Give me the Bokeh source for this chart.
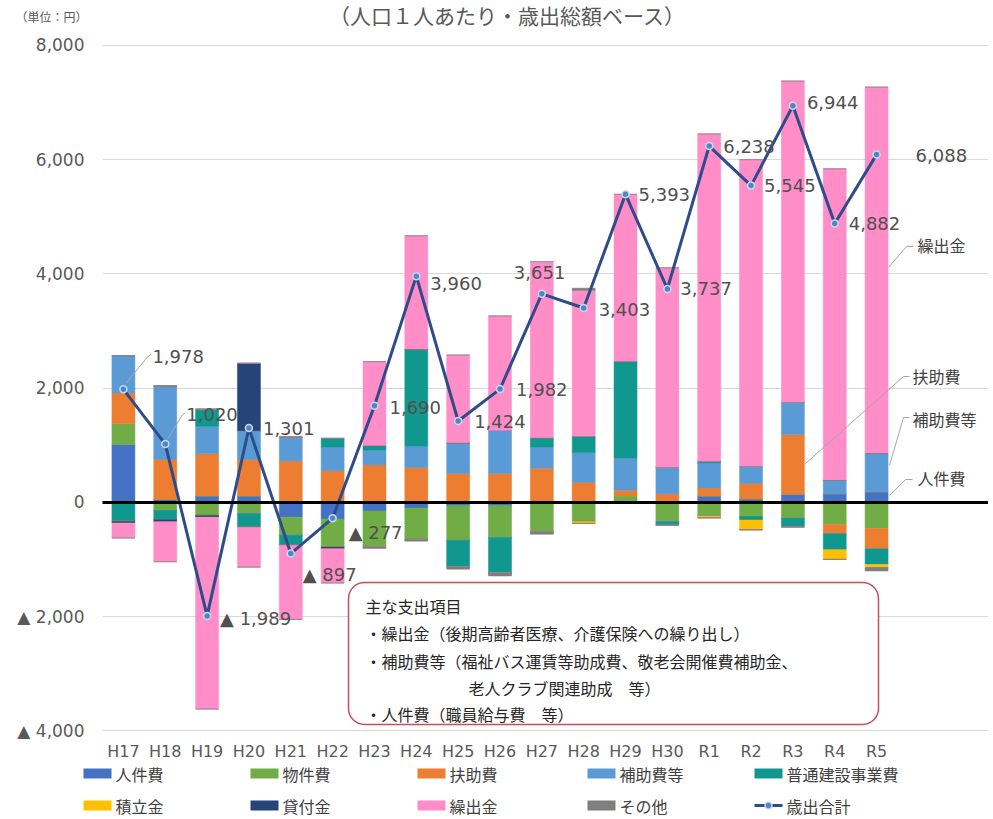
from bokeh.plotting import figure
from bokeh.layouts import column
from bokeh.models import (ColumnDataSource, Range1d, FixedTicker, Label, Grid,
                          LabelSet, BoxAnnotation, Arrow)
from bokeh.core.properties import value
from bokeh.embed import file_html
from bokeh.resources import INLINE

# ---------------- data ----------------
categories = ["H17", "H18", "H19", "H20", "H21", "H22", "H23", "H24", "H25", "H26",
              "H27", "H28", "H29", "H30", "R1", "R2", "R3", "R4", "R5"]

jinkenhi = [1014, 50, 110, 110, -260, -290, -150, -100, -60, -60, 20, 0, 0, 0, 110, 60, 140, 150, 185]
bukkenhi = [360, -145, -230, -200, -315, -493, -630, -550, -607, -560, -520, -335, 110, -340, -240, -250, -280, -390, -460]
fujohi = [540, 700, 740, 640, 725, 551, 655, 609, 504, 504, 577, 348, 100, 149, 140, 270, 1045, -160, -358]
hojohi = [656, 1290, 480, 505, 417, 417, 261, 377, 539, 754, 371, 522, 560, 466, 440, 300, 567, 240, 680]
kensetsu = [-330, -155, 300, -235, -175, 151, 81, 1698, -463, -615, 162, 289, 1700, -60, 30, -60, -150, -280, -270]
tsumitate = [0, 0, 0, 0, 0, 0, 0, 0, 0, 0, 0, -35, 0, 0, -30, -170, 0, -170, -55]
kashitsuke = [-30, -40, -30, 1180, 0, -30, 0, 0, 0, 0, 0, 0, 0, 0, 0, 0, 0, 0, 0]
kuridashi = [-265, -700, -3360, -700, -1300, -600, 1467, 1983, 1537, 2006, 3084, 2551, 2923, 3492, 5730, 5370, 5624, 5450, 6405]
sonota = [0, 0, 0, 0, 0, 0, -30, -30, -40, -55, -40, 40, 0, 0, 0, 0, 0, 0, -60]

totals = [1978, 1020, -1989, 1301, -897, -277, 1690, 3960, 1424, 1982,
          3651, 3403, 5393, 3737, 6238, 5545, 6944, 4882, 6088]

series_names = ["人件費", "物件費", "扶助費", "補助費等", "普通建設事業費",
                "積立金", "貸付金", "繰出金", "その他"]
series_values = [jinkenhi, bukkenhi, fujohi, hojohi, kensetsu,
                 tsumitate, kashitsuke, kuridashi, sonota]
series_colors = ["#4472C4", "#70AD47", "#ED7D31", "#5B9BD5", "#10988F",
                 "#FFC000", "#264478", "#FF8DC8", "#7F7F7F"]
total_name = "歳出合計"
title_text = "（人口１人あたり・歳出総額ベース）"
unit_text = "（単位：円）"

y_ticks = [-4000, -2000, 0, 2000, 4000, 6000, 8000]

# ---------------- layout constants ----------------
WIDTH = 988
TOP_H = 28                      # title strip
MAIN_FRAME_H = 709
MAIN_BOTTOM = 26                # x-axis panel
LEGEND_H = 54
BORDER_L = 102
BAR_AREA_W = 795                # width holding the 19 categories
pitch = BAR_AREA_W / len(categories)
frame_w = WIDTH - BORDER_L
X_START = 0.5
X_END = X_START + frame_w / pitch
Y_START, Y_END = -4030, 8296
frame_left_px = BORDER_L
frame_top_px = TOP_H
frame_bottom_px = TOP_H + MAIN_FRAME_H
ppu = MAIN_FRAME_H / (Y_END - Y_START)

JP = "Noto Sans CJK JP"
NUM = "DejaVu Sans"
GRAY = "#595959"


def sx(px):
    return px - frame_left_px


def sy(py):
    return frame_bottom_px - py


# ---------------- title strip ----------------
top = figure(width=WIDTH, height=TOP_H, x_range=Range1d(0, WIDTH), y_range=Range1d(0, TOP_H),
             min_border=0, x_axis_location=None, y_axis_location=None, frame_align=False,
             output_backend="svg", toolbar_location=None)
top.outline_line_color = None
top.grid.visible = False
top.add_layout(Label(x=507, y=TOP_H - 14, x_units="screen", y_units="screen",
                     text=title_text, text_font=JP, text_font_size="21px",
                     text_color=GRAY, text_align="center", text_baseline="middle"))
top.add_layout(Label(x=15, y=TOP_H - 16, x_units="screen", y_units="screen",
                     text=unit_text, text_font=JP, text_font_size="12px",
                     text_color=GRAY, text_align="left", text_baseline="middle"))

# ---------------- main chart ----------------
p = figure(width=WIDTH, height=MAIN_FRAME_H + MAIN_BOTTOM,
           x_range=Range1d(X_START, X_END), y_range=Range1d(Y_START, Y_END),
           min_border_left=BORDER_L, min_border_top=0, min_border_right=0,
           min_border_bottom=MAIN_BOTTOM, frame_align=False,
           output_backend="svg", toolbar_location=None)
p.outline_line_color = None
p.background_fill_color = "white"
p.border_fill_color = "white"

xs = list(range(1, len(categories) + 1))
grid_bounds = (X_START, X_START + len(categories) + 0.19)

p.xgrid.grid_line_color = None
p.ygrid.ticker = FixedTicker(ticks=[t for t in y_ticks if t != 0])
p.ygrid.grid_line_color = "#D9D9D9"
p.ygrid.grid_line_width = 1
p.ygrid.bounds = grid_bounds

p.yaxis.ticker = FixedTicker(ticks=y_ticks)
p.yaxis.major_label_overrides = {t: (f"▲ {abs(t):,}" if t < 0 else f"{t:,}") for t in y_ticks}
p.yaxis.axis_line_color = None
p.yaxis.major_tick_line_color = None
p.yaxis.minor_tick_line_color = None
p.yaxis.major_label_text_font = NUM
p.yaxis.major_label_text_font_size = "17px"
p.yaxis.major_label_text_color = GRAY
p.yaxis.major_label_standoff = 12

p.xaxis.ticker = FixedTicker(ticks=xs)
p.xaxis.major_label_overrides = {x: c for x, c in zip(xs, categories)}
p.xaxis.axis_line_color = None
p.xaxis.major_tick_line_color = None
p.xaxis.minor_tick_line_color = None
p.xaxis.major_label_text_font = NUM
p.xaxis.major_label_text_font_size = "16px"
p.xaxis.major_label_text_color = GRAY
p.xaxis.major_label_standoff = 3

# stacked bars: positive and negative parts stacked separately
keys = [f"s{i}" for i in range(len(series_names))]
pos = {"x": xs}
neg = {"x": xs}
for k, vals in zip(keys, series_values):
    pos[k] = [max(v, 0) for v in vals]
    neg[k] = [min(v, 0) for v in vals]
p.vbar_stack(keys, x="x", width=0.55, fill_color=series_colors,
             line_color=series_colors, line_width=0.5, source=ColumnDataSource(pos))
p.vbar_stack(keys, x="x", width=0.55, fill_color=series_colors,
             line_color=series_colors, line_width=0.5, source=ColumnDataSource(neg))

# zero line (a grid line at 0, drawn above the bars)
p.add_layout(Grid(dimension=1, ticker=FixedTicker(ticks=[0]),
                  bounds=(X_START - 0.1, grid_bounds[1]),
                  grid_line_color="black", grid_line_width=3, level="annotation"))

# total line
tot_src = ColumnDataSource(dict(
    x=xs, total=totals,
    text=[(f"▲ {abs(v):,}" if v < 0 else f"{v:,}") for v in totals],
))
line_style = dict(line_color="#2F4C8A", line_width=3)
pt_style = dict(size=7, fill_color="#4F86C6", line_color="#C5D9F1", line_width=1.5)
p.line(x="x", y="total", source=tot_src, level="annotation", **line_style)
p.scatter(x="x", y="total", source=tot_src, level="annotation", **pt_style)

# data labels (offsets in px from each point: right, down)
label_offsets = [(29, -33), (21, -30), (13, 3), (14, 0), (12, 21), (16, 14), (15, 2),
                 (14, 7), (16, 1), (16, 0), (-28, -21), (15, 2), (13, 0), (13, 0),
                 (14, 0), (13, 0), (14, -3), (14, 0), (39, 1)]
tot_src.data["xo"] = [o[0] for o in label_offsets]
tot_src.data["yo"] = [-o[1] for o in label_offsets]
p.add_layout(LabelSet(x="x", y="total", text="text", x_offset="xo", y_offset="yo",
                      source=tot_src, text_font=value(NUM), text_font_size="18px",
                      text_color="#505050", text_align="left", text_baseline="middle"))


def point_px(i):
    return (frame_left_px + (xs[i] - X_START) * pitch, frame_top_px + (Y_END - totals[i]) * ppu)


# leader lines for first two labels
leaders = {0: [(3, -4), (24, -30), (28, -33)], 1: [(3, -4), (17, -27), (20, -29)]}
for i, pts in leaders.items():
    x0, y0 = point_px(i)
    for (a, b), (c, d) in zip(pts[:-1], pts[1:]):
        p.add_layout(Arrow(end=None, x_start=sx(x0 + a), y_start=sy(y0 + b),
                           x_end=sx(x0 + c), y_end=sy(y0 + d),
                           start_units="screen", end_units="screen",
                           line_color="#A6A6A6", line_width=1))

# right-side callouts
callouts = [
    ("繰出金", 917, 249, [(888, 272), (906, 251), (913, 251)]),
    ("扶助費", 912, 380, [(805, 468), (903, 381), (909, 381)]),
    ("補助費等", 912, 423, [(889, 470), (903, 422), (909, 422)]),
    ("人件費", 917, 482, [(889, 500), (905, 484), (912, 484)]),
]
for txt, tx, ty, pts in callouts:
    for (a, b), (c, d) in zip(pts[:-1], pts[1:]):
        p.add_layout(Arrow(end=None, x_start=sx(a), y_start=sy(b), x_end=sx(c), y_end=sy(d),
                           start_units="screen", end_units="screen",
                           line_color="#A6A6A6", line_width=1))
    p.add_layout(Label(x=sx(tx), y=sy(ty), x_units="screen", y_units="screen", text=txt,
                       text_font=JP, text_font_size="16px", text_color="#404040",
                       text_baseline="middle", text_align="left"))

# notes box
p.add_layout(BoxAnnotation(left=sx(348), right=sx(878), top=sy(587), bottom=sy(729),
                           left_units="screen", right_units="screen",
                           top_units="screen", bottom_units="screen",
                           fill_color="white", fill_alpha=1.0,
                           line_color="#CC4C55", line_alpha=1.0, line_width=1.5,
                           border_radius=16))
notes = [
    ("主な支出項目", 365, 610),
    ("・繰出金（後期高齢者医療、介護保険への繰り出し）", 365, 637),
    ("・補助費等（福祉バス運賃等助成費、敬老会開催費補助金、", 365, 665),
    ("老人クラブ関連助成　等）", 468, 692),
    ("・人件費（職員給与費　等）", 365, 718),
]
for txt, tx, ty in notes:
    p.add_layout(Label(x=sx(tx), y=sy(ty), x_units="screen", y_units="screen", text=txt,
                       text_font=JP, text_font_size="16px", text_color="#262626",
                       text_baseline="middle", text_align="left"))

# ---------------- legend strip (drawn in pixel units) ----------------
leg = figure(width=WIDTH, height=LEGEND_H, x_range=Range1d(0, WIDTH), y_range=Range1d(0, LEGEND_H),
             min_border=0, x_axis_location=None, y_axis_location=None, frame_align=False,
             output_backend="svg", toolbar_location=None)
leg.outline_line_color = None
leg.grid.visible = False

col_x = [83, 250, 417, 587, 754]
row_y = [LEGEND_H - 10, LEGEND_H - 42]
SW_W, SW_H, TXT_GAP = 28, 10, 32
leg_names = series_names + [total_name]
pos_x = [col_x[i % 5] for i in range(len(leg_names))]
pos_y = [row_y[i // 5] for i in range(len(leg_names))]
n_sw = len(series_names)
leg.rect(x=[x + SW_W / 2 for x in pos_x[:n_sw]], y=pos_y[:n_sw], width=SW_W, height=SW_H,
         fill_color=series_colors, line_color=None)
lx0 = pos_x[n_sw]
leg.segment(x0=[lx0], y0=[pos_y[n_sw]], x1=[lx0 + SW_W], y1=[pos_y[n_sw]], **line_style)
leg.scatter(x=[lx0 + SW_W / 2], y=[pos_y[n_sw]], **pt_style)
leg.text(x=[x + TXT_GAP for x in pos_x], y=pos_y, text=leg_names,
         text_font=value(JP), text_font_size="16px", text_color="#404040",
         text_baseline="middle", text_align="left")

layout = column(top, p, leg, spacing=0)
open("out.html", "w").write(file_html(layout, INLINE))
